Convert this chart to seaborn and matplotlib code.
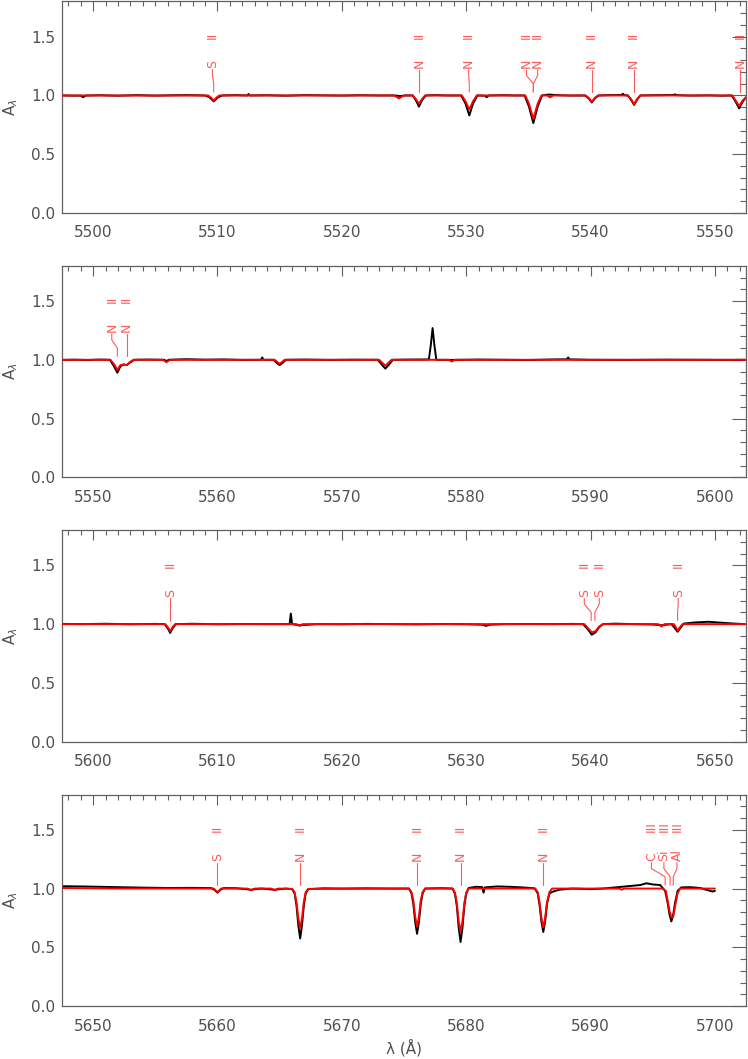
import numpy as np
import matplotlib
matplotlib.use('Agg')
import matplotlib.pyplot as plt
import seaborn as sns

sns.set_theme(style='white')
plt.rcParams['font.family'] = ['DejaVu Sans']
plt.rcParams['mathtext.fontset'] = 'dejavusans'

# observed spectrum (black) and model (red), one list of (wavelength, flux) per panel
obs1 = [(5497.6, 1.000), (5498.5, 0.998), (5499.0, 0.999), (5499.2, 0.985), (5499.4, 0.999),
        (5500.5, 1.002), (5502.0, 0.998), (5503.5, 1.003), (5505.0, 0.999), (5506.5, 1.002),
        (5507.5, 1.003), (5509.0, 1.000), (5509.35, 0.985), (5509.7, 0.950), (5510.05, 0.985),
        (5510.4, 1.000), (5511.5, 1.003), (5512.4, 1.000), (5512.5, 1.012), (5512.6, 1.000),
        (5514.0, 1.002), (5515.5, 0.998), (5517.0, 1.003), (5518.5, 1.001), (5520.0, 0.999),
        (5521.5, 1.002), (5523.0, 1.000), (5524.3, 1.000), (5524.7, 0.995), (5525.1, 1.000),
        (5525.7, 1.000), (5525.95, 0.960), (5526.2, 0.905), (5526.45, 0.960), (5526.75, 1.000),
        (5527.5, 1.003), (5528.5, 1.000), (5529.6, 1.000), (5529.95, 0.930), (5530.25, 0.830),
        (5530.55, 0.930), (5530.9, 1.000), (5531.5, 0.998), (5531.65, 0.985), (5531.8, 1.000),
        (5533.0, 1.002), (5534.0, 1.000), (5534.7, 1.000), (5535.05, 0.905), (5535.4, 0.765),
        (5535.75, 0.905), (5536.1, 1.000), (5536.6, 1.008), (5537.5, 1.002), (5538.5, 0.999),
        (5539.55, 1.000), (5539.85, 0.975), (5540.1, 0.940), (5540.35, 0.975), (5540.65, 1.000),
        (5541.5, 1.003), (5542.5, 1.004), (5542.6, 1.015), (5542.7, 1.003), (5543.0, 1.000),
        (5543.25, 0.965), (5543.5, 0.920), (5543.75, 0.965), (5544.0, 1.000), (5545.0, 1.002),
        (5546.7, 1.004), (5546.8, 1.010), (5546.9, 1.003), (5548.0, 0.999), (5549.5, 1.001),
        (5550.5, 0.998), (5551.35, 1.000), (5551.65, 0.950), (5551.95, 0.890), (5552.25, 0.950),
        (5552.5, 0.985)]
mod1 = [(5497.5, 1.000), (5500.0, 1.000), (5505.0, 0.999), (5509.25, 1.000), (5509.5, 0.980),
        (5509.7, 0.955), (5509.9, 0.980), (5510.15, 1.000), (5515.0, 1.000), (5524.2, 1.000),
        (5524.45, 0.985), (5524.6, 0.975), (5524.75, 0.985), (5525.0, 1.000), (5525.7, 1.000),
        (5525.95, 0.970), (5526.2, 0.930), (5526.45, 0.970), (5526.7, 1.000), (5529.65, 1.000),
        (5529.95, 0.950), (5530.25, 0.880), (5530.55, 0.950), (5530.85, 1.000), (5534.75, 1.000),
        (5535.05, 0.930), (5535.4, 0.800), (5535.75, 0.930), (5536.05, 1.000), (5536.5, 1.000),
        (5536.75, 0.985), (5537.0, 1.000), (5539.6, 1.000), (5539.85, 0.980), (5540.1, 0.945),
        (5540.35, 0.980), (5540.6, 1.000), (5543.0, 1.000), (5543.25, 0.970), (5543.5, 0.925),
        (5543.75, 0.970), (5544.0, 1.000), (5551.4, 1.000), (5551.65, 0.960), (5551.95, 0.910),
        (5552.25, 0.960), (5552.5, 0.980)]

obs2 = [(5547.6, 0.999), (5548.5, 1.001), (5549.5, 0.998), (5550.5, 1.002), (5551.35, 1.000),
        (5551.65, 0.950), (5551.95, 0.890), (5552.2, 0.945), (5552.45, 0.960), (5552.7, 0.955),
        (5552.95, 0.975), (5553.3, 1.000), (5554.5, 1.002), (5555.7, 1.000), (5555.9, 0.990),
        (5556.1, 1.000), (5557.5, 1.005), (5559.0, 1.001), (5560.5, 1.003), (5562.0, 0.999),
        (5563.5, 1.000), (5563.6, 1.020), (5563.7, 1.000), (5564.5, 1.000), (5564.75, 0.975),
        (5565.0, 0.955), (5565.25, 0.975), (5565.5, 1.000), (5567.0, 1.002), (5569.0, 0.999),
        (5571.0, 1.001), (5572.9, 1.000), (5573.2, 0.960), (5573.5, 0.925), (5573.8, 0.960),
        (5574.1, 1.000), (5575.5, 1.002), (5577.0, 1.003), (5577.15, 1.120), (5577.3, 1.270),
        (5577.45, 1.120), (5577.6, 1.000), (5579.0, 0.999), (5581.0, 1.002), (5583.0, 1.000),
        (5585.0, 0.998), (5587.0, 1.003), (5588.1, 1.004), (5588.2, 1.020), (5588.3, 1.004),
        (5590.0, 1.000), (5593.0, 0.999), (5596.0, 1.001), (5599.0, 1.000), (5601.0, 0.999),
        (5602.4, 1.000)]
mod2 = [(5547.5, 1.000), (5551.4, 1.000), (5551.7, 0.960), (5551.95, 0.915), (5552.2, 0.955),
        (5552.45, 0.960), (5552.7, 0.955), (5552.95, 0.980), (5553.25, 1.000), (5555.6, 1.000),
        (5555.9, 0.980), (5556.2, 1.000), (5564.6, 1.000), (5565.0, 0.965), (5565.4, 1.000),
        (5573.0, 1.000), (5573.5, 0.950), (5574.0, 1.000), (5578.6, 1.000), (5578.85, 0.985),
        (5579.1, 1.000), (5602.5, 1.000)]

obs3 = [(5597.6, 1.002), (5599.0, 1.000), (5601.0, 1.003), (5603.0, 0.999), (5605.0, 1.002),
        (5605.75, 1.000), (5606.0, 0.965), (5606.2, 0.925), (5606.4, 0.965), (5606.65, 1.000),
        (5608.0, 1.003), (5610.0, 0.999), (5612.0, 1.001), (5614.0, 1.000), (5615.8, 1.000),
        (5615.9, 1.090), (5616.0, 1.000), (5616.6, 0.990), (5618.0, 1.000), (5620.0, 0.999),
        (5622.0, 1.002), (5624.0, 1.000), (5626.0, 0.998), (5628.0, 1.001), (5630.0, 0.999),
        (5631.3, 0.995), (5631.6, 0.985), (5631.9, 0.995), (5633.0, 1.000), (5635.0, 1.001),
        (5637.0, 1.000), (5638.5, 1.002), (5639.4, 1.000), (5639.75, 0.960), (5640.1, 0.910),
        (5640.4, 0.930), (5640.7, 0.975), (5641.0, 1.000), (5642.0, 1.004), (5643.5, 1.000),
        (5645.0, 0.997), (5645.7, 0.990), (5646.5, 1.000), (5646.75, 0.970), (5647.0, 0.935),
        (5647.25, 0.970), (5647.5, 1.005), (5648.5, 1.015), (5649.5, 1.020), (5650.5, 1.012),
        (5651.5, 1.005), (5652.4, 1.000)]
mod3 = [(5597.5, 1.000), (5605.8, 1.000), (5606.0, 0.975), (5606.2, 0.940), (5606.4, 0.975),
        (5606.6, 1.000), (5616.35, 1.000), (5616.6, 0.985), (5616.85, 1.000), (5639.5, 1.000),
        (5639.8, 0.965), (5640.1, 0.930), (5640.4, 0.940), (5640.7, 0.980), (5641.0, 1.000),
        (5645.45, 1.000), (5645.7, 0.980), (5645.95, 1.000), (5646.7, 1.000), (5646.85, 0.975),
        (5647.0, 0.945), (5647.2, 0.975), (5647.4, 1.000), (5652.5, 1.000)]

obs4 = [(5647.6, 1.020), (5649.0, 1.018), (5650.5, 1.015), (5652.0, 1.012), (5654.0, 1.008),
        (5656.0, 1.005), (5658.0, 1.006), (5659.5, 1.004), (5659.75, 0.990), (5660.0, 0.965),
        (5660.25, 0.990), (5660.5, 1.004), (5661.5, 1.003), (5662.7, 0.990), (5663.5, 1.000),
        (5664.6, 0.990), (5665.5, 1.000), (5666.0, 0.995), (5666.2, 0.960), (5666.35, 0.860),
        (5666.5, 0.690), (5666.65, 0.575), (5666.8, 0.690), (5666.95, 0.860), (5667.1, 0.960),
        (5667.3, 0.995), (5668.5, 1.002), (5670.0, 1.000), (5672.0, 1.002), (5674.0, 1.000),
        (5675.4, 1.000), (5675.6, 0.960), (5675.75, 0.870), (5675.9, 0.715), (5676.05, 0.615),
        (5676.2, 0.715), (5676.35, 0.870), (5676.5, 0.960), (5676.7, 1.000), (5678.0, 1.003),
        (5678.9, 1.000), (5679.1, 0.955), (5679.25, 0.850), (5679.4, 0.665), (5679.55, 0.545),
        (5679.7, 0.665), (5679.85, 0.850), (5680.0, 0.955), (5680.2, 1.005), (5680.8, 1.015),
        (5681.3, 1.012), (5681.4, 0.965), (5681.5, 1.010), (5682.5, 1.018), (5683.5, 1.015),
        (5684.5, 1.010), (5685.5, 1.002), (5685.75, 0.960), (5685.9, 0.860), (5686.05, 0.720),
        (5686.2, 0.630), (5686.35, 0.720), (5686.5, 0.870), (5686.7, 0.960), (5687.0, 0.975),
        (5687.5, 0.990), (5688.5, 1.000), (5690.0, 0.995), (5691.0, 1.000), (5692.0, 1.010),
        (5693.0, 1.020), (5694.0, 1.030), (5694.5, 1.045), (5695.0, 1.035), (5695.6, 1.030),
        (5696.0, 0.980), (5696.2, 0.880), (5696.35, 0.780), (5696.5, 0.720), (5696.65, 0.780),
        (5696.8, 0.880), (5697.0, 0.980), (5697.3, 1.010), (5698.0, 1.012), (5698.8, 1.005),
        (5699.3, 0.990), (5699.8, 0.975), (5700.0, 0.980)]
mod4 = [(5647.5, 1.005), (5652.0, 1.000), (5659.7, 1.000), (5660.0, 0.970), (5660.3, 1.000),
        (5662.4, 1.000), (5662.7, 0.985), (5663.0, 1.000), (5664.3, 1.000), (5664.6, 0.985),
        (5664.9, 1.000), (5666.0, 0.997), (5666.2, 0.970), (5666.35, 0.890), (5666.5, 0.750),
        (5666.65, 0.660), (5666.8, 0.750), (5666.95, 0.890), (5667.1, 0.970), (5667.3, 0.997),
        (5675.4, 1.000), (5675.6, 0.970), (5675.75, 0.900), (5675.9, 0.760), (5676.05, 0.675),
        (5676.2, 0.760), (5676.35, 0.900), (5676.5, 0.970), (5676.7, 1.000), (5678.9, 1.000),
        (5679.1, 0.965), (5679.25, 0.875), (5679.4, 0.720), (5679.55, 0.630), (5679.7, 0.720),
        (5679.85, 0.875), (5680.0, 0.965), (5680.2, 1.000), (5685.55, 1.000), (5685.75, 0.970),
        (5685.9, 0.885), (5686.05, 0.750), (5686.2, 0.670), (5686.35, 0.750), (5686.5, 0.885),
        (5686.7, 0.970), (5686.9, 1.000), (5692.3, 1.000), (5692.5, 0.990), (5692.7, 1.000),
        (5695.8, 1.000), (5696.05, 0.980), (5696.2, 0.900), (5696.35, 0.810), (5696.5, 0.755),
        (5696.65, 0.760), (5696.8, 0.850), (5697.0, 0.960), (5697.2, 1.000), (5700.0, 1.000)]

# line identifications: (label position, line position, element, ion)
lab1 = [(5509.6, 5509.7, 'S', 'II'), (5526.2, 5526.2, 'N', 'II'), (5530.2, 5530.25, 'N', 'II'),
        (5534.85, 5535.4, 'N', 'II'), (5535.75, 5535.4, 'N', 'II'), (5540.08, 5540.1, 'N', 'II'),
        (5543.46, 5543.5, 'N', 'II'), (5552.0, 5552.0, 'N', 'II')]
lab2 = [(5551.5, 5551.95, 'N', 'II'), (5552.7, 5552.7, 'N', 'II')]
lab3 = [(5606.2, 5606.2, 'S', 'II'), (5639.5, 5640.05, 'S', 'II'), (5640.7, 5640.35, 'S', 'II'),
        (5647.05, 5647.0, 'S', 'II')]
lab4 = [(5660.0, 5660.0, 'S', 'II'), (5666.65, 5666.65, 'N', 'II'), (5676.05, 5676.05, 'N', 'II'),
        (5679.55, 5679.55, 'N', 'II'), (5686.2, 5686.2, 'N', 'II'), (5694.9, 5696.0, 'C', 'III'),
        (5695.9, 5696.4, 'Si', 'III'), (5696.95, 5696.65, 'Al', 'III')]

xranges = [(5497.5, 5552.5), (5547.5, 5602.5), (5597.5, 5652.5), (5647.5, 5702.5)]
xticks = [[5500, 5510, 5520, 5530, 5540, 5550], [5550, 5560, 5570, 5580, 5590, 5600],
          [5600, 5610, 5620, 5630, 5640, 5650], [5650, 5660, 5670, 5680, 5690, 5700]]

panels = [(obs1, mod1, lab1), (obs2, mod2, lab2), (obs3, mod3, lab3), (obs4, mod4, lab4)]
bottoms = [0.7989, 0.5493, 0.2997, 0.0500]

gray = '#606060'
lred = '#ff5a5a'

fig = plt.figure(figsize=(7.48, 10.59), dpi=100)

for i, (obs, mod, labs) in enumerate(panels):
    ax = fig.add_axes([0.0829, bottoms[i], 0.9144, 0.1997])
    o = np.array(obs)
    m = np.array(mod)
    sns.lineplot(x=o[:, 0], y=o[:, 1], ax=ax, color='black', linewidth=1.4,
                 sort=False, estimator=None, zorder=2)
    sns.lineplot(x=m[:, 0], y=m[:, 1], ax=ax, color='red', linewidth=1.4,
                 sort=False, estimator=None, zorder=3)

    for xl, xc, el, ion in labs:
        if abs(xl - xc) < 0.05:
            ax.plot([xc, xc], [1.03, 1.22], color=lred, lw=0.8)
        else:
            ax.plot([xl, xl, xc, xc], [1.22, 1.17, 1.10, 1.03], color=lred, lw=0.8)
        ax.text(xl, 1.235, el, rotation=90, ha='center', va='bottom',
                color=lred, fontsize=9)
        ax.text(xl, 1.48, ion, rotation=90, ha='center', va='bottom',
                color=lred, fontsize=9)

    ax.set_xlim(*xranges[i])
    ax.set_ylim(0, 1.8)
    ax.set_xticks(xticks[i])
    ax.set_xticks(np.arange(xranges[i][0] + 0.5, xranges[i][1], 1.0), minor=True)
    ax.set_yticks([0.0, 0.5, 1.0, 1.5])
    ax.set_yticks(np.arange(0.1, 1.8, 0.1), minor=True)
    ax.set_yticklabels(['0.0', '0.5', '1.0', '1.5'])
    ax.tick_params(which='both', direction='in', top=True, right=True,
                   colors=gray, labelcolor='#505050', labelsize=11)
    ax.tick_params(axis='x', which='major', length=7, width=0.8, pad=9)
    ax.tick_params(axis='x', which='minor', length=3.5, width=0.8)
    ax.tick_params(axis='y', which='major', length=10, width=0.8, pad=5)
    ax.tick_params(axis='y', which='minor', length=4.5, width=0.8)
    for sp in ax.spines.values():
        sp.set_color(gray)
        sp.set_linewidth(0.9)
    ax.set_ylabel(r'A$_\lambda$', color='#505050', fontsize=11, labelpad=8)
    if i == 3:
        ax.set_xlabel('λ (Å)', color='#505050', fontsize=11, labelpad=4)
    else:
        ax.set_xlabel('')

fig.savefig('out.png', dpi=100)
